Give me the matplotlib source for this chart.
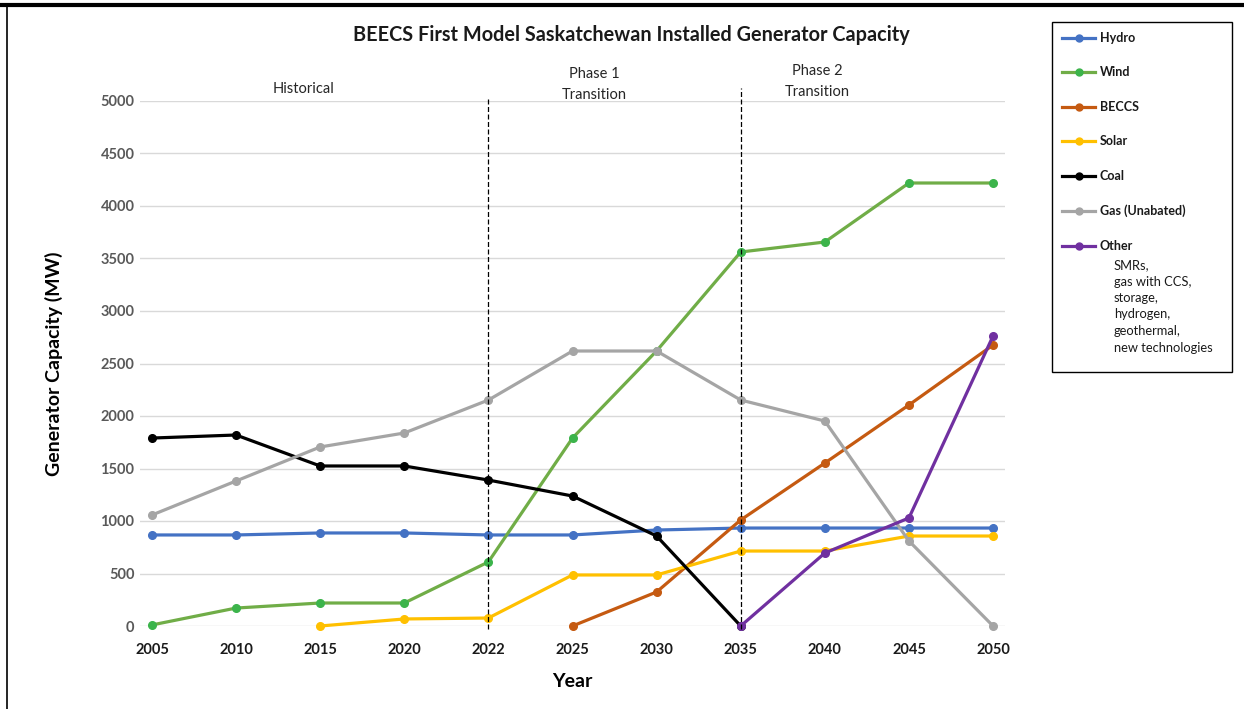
import matplotlib
matplotlib.use("Agg")
import matplotlib.pyplot as plt
from matplotlib.lines import Line2D
from matplotlib.patches import Rectangle
import numpy as np

plt.rcParams['font.family'] = ['Lato', 'DejaVu Sans']

years = ["2005", "2010", "2015", "2020", "2022", "2025", "2030", "2035", "2040", "2045", "2050"]
hydro = [867, 867, 886, 886, 867, 867, 914, 933, 933, 933, 933]
wind = [10, 171, 219, 219, 610, 1790, 2620, 3562, 3657, 4219, 4219]
beccs = [None, None, None, None, None, 0, 324, 1010, 1552, 2105, 2676]
solar = [None, None, 0, 67, 76, 486, 486, 714, 714, 857, 857]
coal = [1790, 1819, 1524, 1524, 1390, 1238, 857, 0, None, None, None]
gas = [1057, 1381, 1705, 1838, 2152, 2619, 2619, 2152, 1952, 810, 0]
other = [None, None, None, None, None, None, None, 0, 695, 1029, 2762]

series_names = ["Hydro", "Wind", "BECCS", "Solar", "Coal", "Gas (Unabated)", "Other"]
series_vals = [hydro, wind, beccs, solar, coal, gas, other]
line_colors = ["#4472C4", "#70AD47", "#C55A11", "#FFC000", "#000000", "#A5A5A5", "#7030A0"]
marker_colors = ["#4472C4", "#3CB44B", "#C55A11", "#FFC000", "#000000", "#A5A5A5", "#7030A0"]
other_note = "SMRs,\ngas with CCS,\nstorage,\nhydrogen,\ngeothermal,\nnew technologies"

phase_lines = ["2022", "2035"]
phase_labels = ["Historical", "Phase 1\nTransition", "Phase 2\nTransition"]

W, H = 1244, 709
fig = plt.figure(figsize=(W / 100, H / 100), dpi=100)
ax = fig.add_axes([140 / W, 1 - 626 / H, (1005 - 140) / W, (626 - 101) / H])

x = np.arange(len(years))
for name, vals, lc, mc in zip(series_names, series_vals, line_colors, marker_colors):
    v = np.array([np.nan if a is None else a for a in vals], dtype=float)
    ax.plot(x, v, color=lc, lw=2.3, marker='o', markersize=5.5,
            markerfacecolor=mc, markeredgecolor=mc, clip_on=False, zorder=3)

ax.set_xlim(-0.142, len(years) - 1 + 0.142)
ax.set_ylim(0, 5000)
ax.set_yticks(np.arange(0, 5001, 500))
ax.set_xticks(x)
ax.set_xticklabels(years, fontweight='bold', fontsize=10.5, color='#1a1a1a')
ax.tick_params(axis='y', labelsize=10.5, labelcolor='#595959', length=0, pad=4)
ax.tick_params(axis='x', length=0, pad=12)
for lab in ax.get_yticklabels():
    lab.set_fontweight('bold')
ax.grid(axis='y', color='#D9D9D9', lw=1)
ax.set_axisbelow(True)
for s in ax.spines.values():
    s.set_visible(False)

# phase dividers
tops = [5030, 5125]
for p, t in zip(phase_lines, tops):
    xi = years.index(p)
    ax.plot([xi, xi], [-30, t], color='black', lw=0.9, ls=(0, (4, 2)),
            clip_on=False, zorder=4)

# phase annotations
ax.text(1.8, 5050, phase_labels[0], ha='center', va='bottom', fontsize=10.5, color='#262626')
ax.text(5.26, 4995, phase_labels[1], ha='center', va='bottom', fontsize=10.5,
        color='#262626', linespacing=1.6)
ax.text(7.91, 5020, phase_labels[2], ha='center', va='bottom', fontsize=10.5,
        color='#262626', linespacing=1.6)

ax.set_xlabel("Year", fontsize=14, fontweight='bold', labelpad=12)
ax.set_ylabel("Generator Capacity (MW)", fontsize=14, fontweight='bold', labelpad=27)
fig.text(631 / W, 1 - 35 / H, "BEECS First Model Saskatchewan Installed Generator Capacity",
         ha='center', va='center', fontsize=14.3, fontweight='bold', color='#1a1a1a')

# page border lines
fig.add_artist(Line2D([0, 1], [1 - 5 / H, 1 - 5 / H], color='black', lw=3, transform=fig.transFigure))
fig.add_artist(Line2D([7 / W, 7 / W], [0, 1 - 5 / H], color='black', lw=1.2, transform=fig.transFigure))

# legend box
fig.add_artist(Rectangle((1052 / W, 1 - 372 / H), (1232 - 1052) / W, (372 - 22) / H,
                         transform=fig.transFigure, fill=False, edgecolor='black', lw=1))
ys = [38, 72, 107, 141, 176, 211, 246]
for name, lc, mc, yy in zip(series_names, line_colors, marker_colors, ys):
    fy = 1 - yy / H
    fig.add_artist(Line2D([1062 / W, 1095 / W], [fy, fy], color=lc, lw=2.3,
                          transform=fig.transFigure))
    fig.add_artist(Line2D([1078.5 / W], [fy], color=lc, marker='o', markersize=5,
                          markerfacecolor=mc, markeredgecolor=mc, transform=fig.transFigure))
    fig.text(1100 / W, fy, name, ha='left', va='center', fontsize=9, fontweight='bold',
             color='#1a1a1a')
fig.text(1114 / W, 1 - 259 / H, other_note, ha='left', va='top', fontsize=9.3,
         color='#1a1a1a', linespacing=1.45)

fig.savefig("out.png", dpi=100)
